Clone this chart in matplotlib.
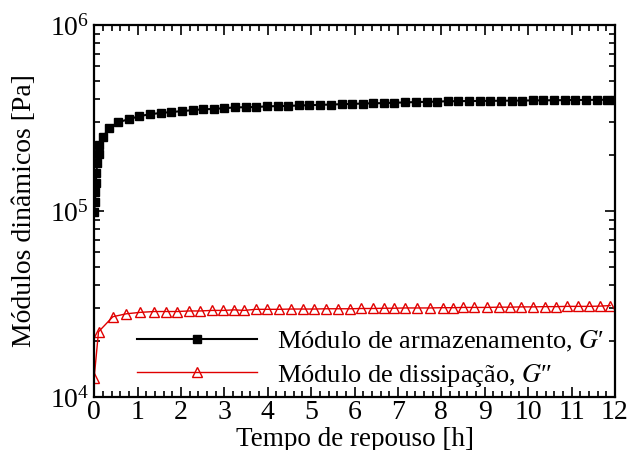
import matplotlib
matplotlib.use("Agg")
import matplotlib.pyplot as plt
from matplotlib.ticker import MultipleLocator, LogLocator, NullFormatter

plt.rcParams['font.family'] = ['Liberation Serif', 'DejaVu Serif']
plt.rcParams['mathtext.fontset'] = 'stix'

# G' (módulo de armazenamento) [Pa]
t_g1 = [0.0, 0.02, 0.03, 0.04, 0.05, 0.07, 0.10, 0.12, 0.20, 0.35, 0.56,
        0.80, 1.04, 1.29, 1.53, 1.78, 2.02, 2.27, 2.51, 2.76, 3.00, 3.25,
        3.49, 3.74, 3.98, 4.23, 4.47, 4.72, 4.96, 5.21, 5.45, 5.70, 5.94,
        6.19, 6.43, 6.68, 6.92, 7.17, 7.41, 7.66, 7.90, 8.15, 8.39, 8.64,
        8.88, 9.13, 9.37, 9.62, 9.86, 10.11, 10.35, 10.60, 10.84, 11.09,
        11.33, 11.58, 11.82, 12.00]
g1 = [0.985e5, 1.12e5, 1.26e5, 1.42e5, 1.60e5, 1.81e5, 2.02e5, 2.26e5,
      2.50e5, 2.80e5, 3.01e5, 3.12e5, 3.24e5, 3.32e5, 3.37e5, 3.41e5,
      3.45e5, 3.49e5, 3.53e5, 3.54e5, 3.58e5, 3.61e5, 3.62e5, 3.63e5,
      3.66e5, 3.67e5, 3.68e5, 3.70e5, 3.71e5, 3.73e5, 3.74e5, 3.76e5,
      3.77e5, 3.79e5, 3.80e5, 3.81e5, 3.83e5, 3.84e5, 3.86e5, 3.87e5,
      3.88e5, 3.90e5, 3.90e5, 3.91e5, 3.91e5, 3.92e5, 3.92e5, 3.93e5,
      3.93e5, 3.94e5, 3.94e5, 3.95e5, 3.95e5, 3.96e5, 3.96e5, 3.97e5,
      3.97e5, 3.98e5]

# G'' (módulo de dissipação) [Pa]
t_g2 = [0.0, 0.10, 0.43, 0.74, 1.06, 1.38, 1.66, 1.92, 2.18, 2.44, 2.72,
        2.98, 3.23, 3.46, 3.72, 3.98, 4.27, 4.53, 4.81, 5.07, 5.35, 5.63,
        5.90, 6.15, 6.42, 6.68, 6.92, 7.17, 7.45, 7.73, 8.03, 8.28, 8.51,
        8.76, 9.05, 9.32, 9.59, 9.83, 10.11, 10.39, 10.65, 10.89, 11.16,
        11.41, 11.66, 11.89]
g2 = [1.27e4, 2.24e4, 2.70e4, 2.80e4, 2.85e4, 2.88e4, 2.88e4, 2.88e4,
      2.90e4, 2.90e4, 2.92e4, 2.92e4, 2.94e4, 2.92e4, 2.96e4, 2.96e4,
      2.96e4, 2.97e4, 2.97e4, 2.97e4, 2.98e4, 2.98e4, 2.98e4, 2.99e4,
      2.99e4, 3.00e4, 3.00e4, 3.01e4, 3.01e4, 3.01e4, 3.02e4, 3.02e4,
      3.03e4, 3.03e4, 3.03e4, 3.04e4, 3.04e4, 3.05e4, 3.05e4, 3.06e4,
      3.06e4, 3.07e4, 3.07e4, 3.07e4, 3.08e4, 3.10e4]

fig = plt.figure(figsize=(6.32, 4.5), dpi=100)
ax = fig.add_axes([0.149, 0.118, 0.824, 0.826])

ax.plot(t_g1, g1, color='black', lw=1.5, marker='s', ms=6,
        label="Módulo de armazenamento, $G$′")
ax.plot(t_g2, g2, color='#e00000', lw=1.0, marker='^', ms=7, mfc='none',
        mec='#e00000', mew=1.0, label="Módulo de dissipação, $G$″")

ax.set_yscale('log')
ax.set_xlim(0, 12)
ax.set_ylim(1e4, 1e6)
ax.xaxis.set_major_locator(MultipleLocator(1))
ax.xaxis.set_minor_locator(MultipleLocator(0.2))
ax.yaxis.set_major_locator(LogLocator(base=10))
ax.yaxis.set_minor_locator(LogLocator(base=10, subs=range(2, 10)))
ax.yaxis.set_minor_formatter(NullFormatter())

ax.tick_params(which='both', direction='in', top=True, right=True,
               labelsize=20, width=1.2)
ax.tick_params(which='major', length=7)
ax.tick_params(which='minor', length=4)
ax.tick_params(axis='x', pad=2)
for s in ax.spines.values():
    s.set_linewidth(1.6)

ax.set_xlabel('Tempo de repouso [h]', fontsize=19.5, labelpad=2)
ax.set_ylabel('Módulos dinâmicos [Pa]', fontsize=20, labelpad=9)

ax.legend(loc='lower left', bbox_to_anchor=(0.082, 0.022), frameon=False,
          fontsize=19, handlelength=4.55, handletextpad=0.76, borderpad=0,
          borderaxespad=0, labelspacing=0.29, numpoints=1)

fig.savefig('out.png', dpi=100)
